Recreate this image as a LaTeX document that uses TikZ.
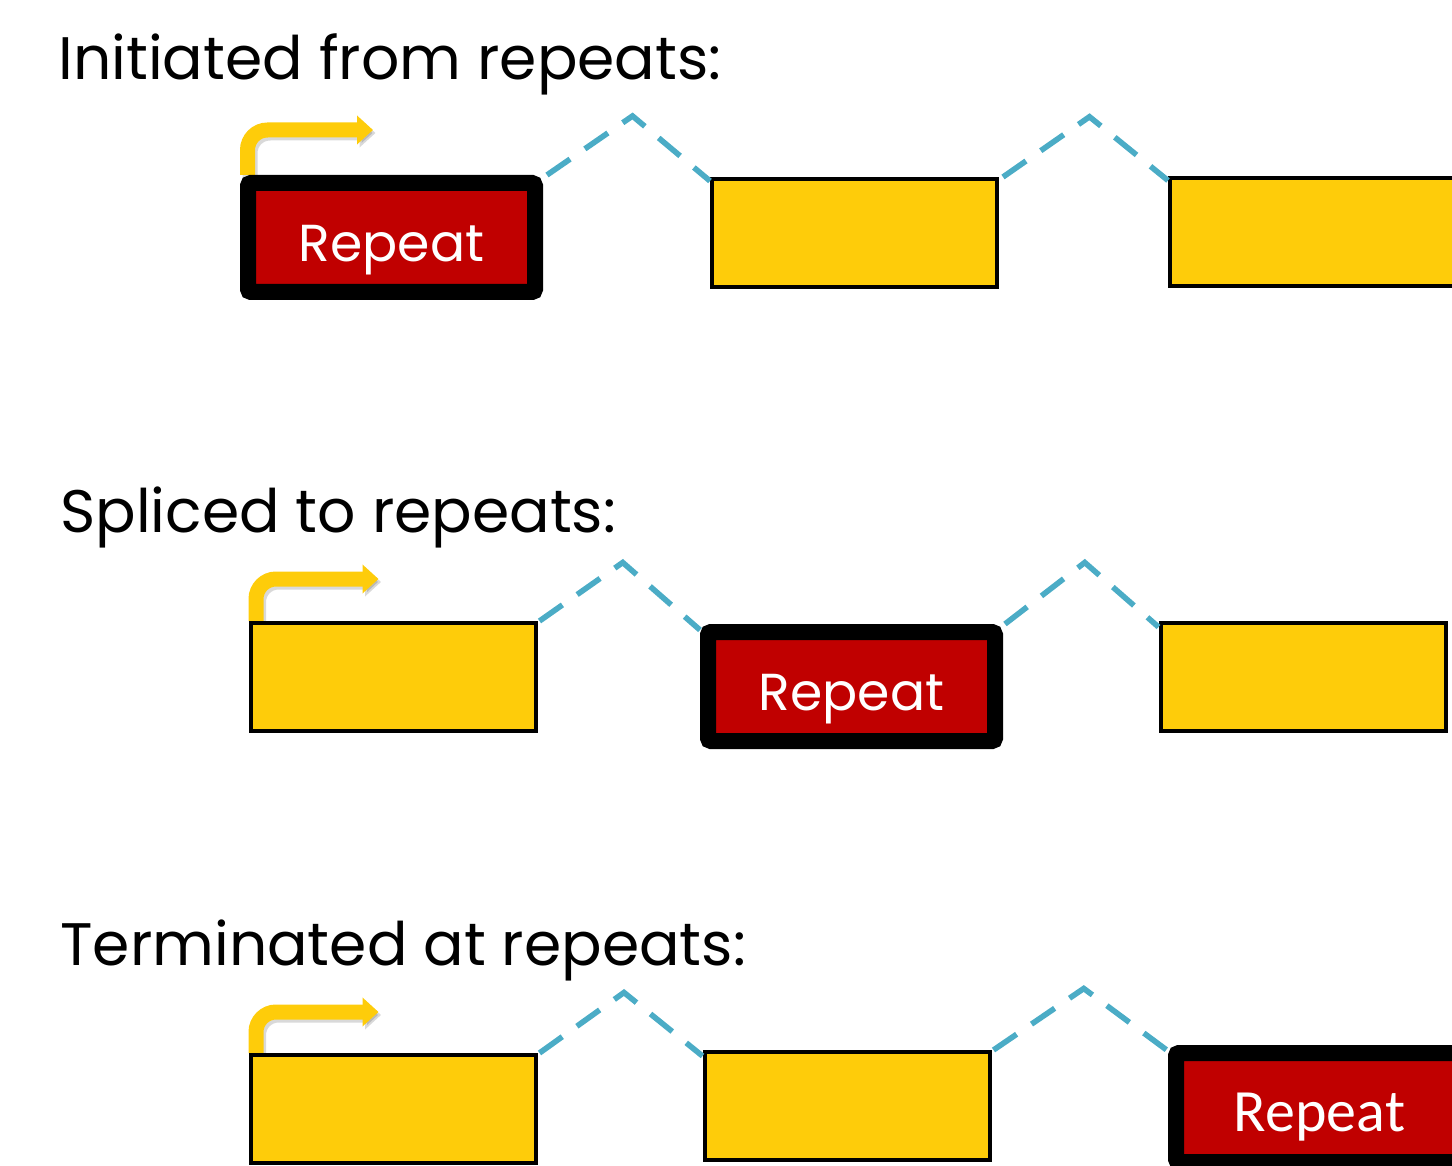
\documentclass[tikz,border=0pt]{standalone}
\usepackage{fontspec}
\setmainfont{Poppins}
\newfontfamily\calibrifont{Carlito}
\usetikzlibrary{arrows.meta, calc, backgrounds}
\definecolor{exonfill}{HTML}{FECC0A}
\definecolor{repfill}{HTML}{C00000}
\definecolor{intronline}{HTML}{4BACC6}
\definecolor{tssfill}{HTML}{FECC0A}
\tikzset{
  exon/.style={rectangle, draw=black, fill=exonfill, line width=2pt, minimum width=142.5pt, minimum height=54pt, inner sep=0pt},
  repeatbox/.style={rectangle, draw=black, fill=repfill, line width=8pt, rounded corners=1.5pt, minimum width=143.5pt, minimum height=54.5pt, inner sep=0pt, text height=24pt, text depth=0pt, text=white, font=\fontsize{26}{30}\selectfont},
  heading/.style={anchor=base west, inner sep=0pt, font=\fontsize{30}{34}\selectfont},
  intron/.style={draw=intronline, line width=2.8pt, dash pattern=on 14pt off 9pt},
  tss/.style={draw=tssfill, line width=7.5pt, rounded corners=10pt, -{Triangle[width=14pt, length=8pt]}},
  tssshadow/.style={tss, draw=black, draw opacity=0.15, fill opacity=0.15},
}

\begin{document}
\begin{tikzpicture}[x=0.5pt, y=-0.5pt]
\useasboundingbox (0,0) rectangle (1452,1166);

% ===== Initiated from repeats =====
\node[heading] (head1) at (58,80) {Initiated from repeats:};
\node[repeatbox] (rep1) at (391.5,237.5) {Repeat};
\node[exon] (ex1b) at (854.5,233) {};
\node[exon] (ex1c) at (1312.5,232.5) {};

% ===== Spliced to repeats =====
\node[heading] (head2) at (60,532) {Spliced to repeats:};
\node[exon] (ex2a) at (393,677) {};
\node[repeatbox] (rep2) at (851.5,686.5) {Repeat};
\node[exon] (ex2c) at (1303,677) {};

% ===== Terminated at repeats =====
\node[heading] (head3) at (60,965) {Terminated at repeats:};
\node[exon] (ex3a) at (393,1109) {};
\node[exon] (ex3b) at (847,1106) {};
\node[repeatbox, font=\calibrifont\fontsize{30}{34}\selectfont] (rep3) at (1319.5,1107.5) {Repeat};

% ===== Introns =====
\draw[intron] ([xshift=2pt]rep1.north east) -- ($(rep1.north east)!0.5!(ex1b.north west)+(6,-60)$) -- ([yshift=-2pt]ex1b.north west);
\draw[intron] ([xshift=2pt]ex1b.north east) -- ($(ex1b.north east)!0.5!(ex1c.north west)+(6,-60)$) -- ([yshift=-2pt]ex1c.north west);
\draw[intron] ([xshift=1pt]ex2a.north east) -- ($(ex2a.north east)!0.5!(rep2.north west)+(4,-60)$) -- ([yshift=-3pt]rep2.north west);
\draw[intron] ([xshift=1pt]rep2.north east) -- ($(rep2.north east)!0.5!(ex2c.north west)+(4,-60)$) -- ([yshift=-3pt]ex2c.north west);
\draw[intron] ([xshift=1pt]ex3a.north east) -- ($(ex3a.north east)!0.5!(ex3b.north west)+(4,-59)$) -- ([yshift=-3pt]ex3b.north west);
\draw[intron] ([xshift=1pt]ex3b.north east) -- ($(ex3b.north east)!0.5!(rep3.north west)+(4,-59)$) -- ([yshift=-3pt]rep3.north west);

% ===== Start sites =====
\begin{scope}[on background layer]
  \draw[tssshadow] ([xshift=5pt, yshift=-1.5pt]rep1.north west) |- ++(125.5,-45);
  \draw[tssshadow] ([xshift=5pt, yshift=-1.5pt]ex2a.north west) |- ++(122.5,-42);
  \draw[tssshadow] ([xshift=5pt, yshift=-1.5pt]ex3a.north west) |- ++(122.5,-41);
  \draw[tss] ([xshift=3.75pt]rep1.north west) |- ++(125.5,-45);
  \draw[tss] ([xshift=3.75pt]ex2a.north west) |- ++(122.5,-42);
  \draw[tss] ([xshift=3.75pt]ex3a.north west) |- ++(122.5,-41);
\end{scope}

\end{tikzpicture}
\end{document}
